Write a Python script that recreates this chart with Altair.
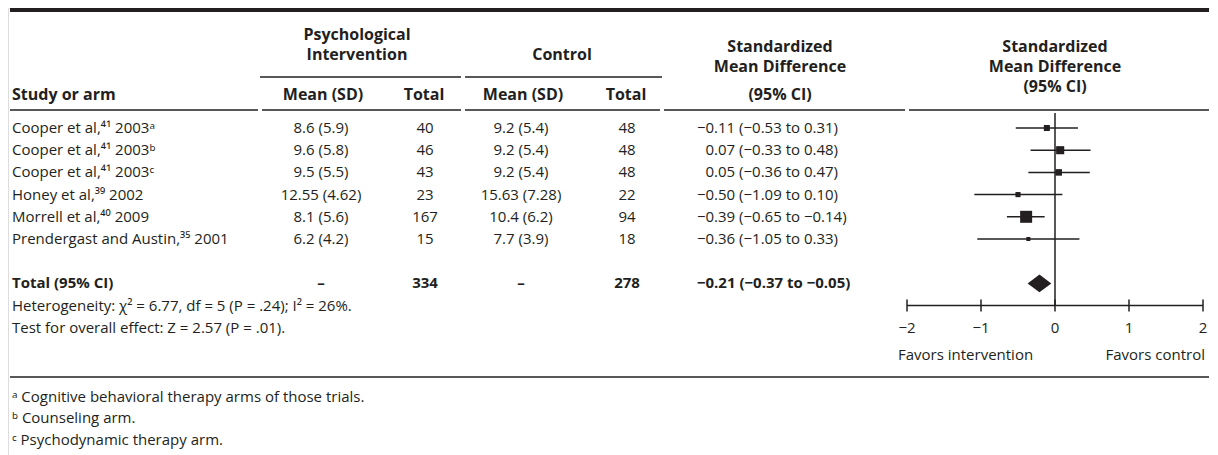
import altair as alt
import pandas as pd

# ---------------- data ----------------
studies = ["Cooper et al,⁴¹ 2003ᵃ", "Cooper et al,⁴¹ 2003ᵇ", "Cooper et al,⁴¹ 2003ᶜ",
           "Honey et al,³⁹ 2002", "Morrell et al,⁴⁰ 2009", "Prendergast and Austin,³⁵ 2001"]
int_mean_sd = ["8.6 (5.9)", "9.6 (5.8)", "9.5 (5.5)", "12.55 (4.62)", "8.1 (5.6)", "6.2 (4.2)"]
int_total = [40, 46, 43, 23, 167, 15]
ctl_mean_sd = ["9.2 (5.4)", "9.2 (5.4)", "9.2 (5.4)", "15.63 (7.28)", "10.4 (6.2)", "7.7 (3.9)"]
ctl_total = [48, 48, 48, 22, 94, 18]
smd = [-0.11, 0.07, 0.05, -0.50, -0.39, -0.36]
ci_low = [-0.53, -0.33, -0.36, -1.09, -0.65, -1.05]
ci_high = [0.31, 0.48, 0.47, 0.10, -0.14, 0.33]
weight = [11, 20, 13, 8, 44, 5]          # estimated from square areas
total_smd, total_low, total_high = -0.21, -0.37, -0.05
total_int, total_ctl = 334, 278
heterogeneity = "Heterogeneity: χ² = 6.77, df = 5 (P = .24); I² = 26%."
overall = "Test for overall effect: Z = 2.57 (P = .01)."
footnotes = ["ᵃ Cognitive behavioral therapy arms of those trials.",
             "ᵇ Counseling arm.",
             "ᶜ Psychodynamic therapy arm."]
axis_ticks = [-2, -1, 0, 1, 2]
favors = ["Favors intervention", "Favors control"]

# ---------------- style / layout ----------------
FONT = "Open Sans, Noto Sans, DejaVu Sans, sans-serif"
INK = "#231f20"
HEAD = 16
BODY = 15
W, H = 1202, 447

Y_SCALE = alt.Scale(domain=[-5.4054, 14.7297], reverse=True, nice=False, zero=False)
X_SCALE = alt.Scale(domain=[-2, 2], range=[899, 1195], nice=False, zero=False)


def Y(field="r"):
    return alt.Y(f"{field}:Q", scale=Y_SCALE, axis=None)


def X(field):
    return alt.X(f"{field}:Q", scale=X_SCALE, axis=None)


def fmt(v):
    return ("\u2212" if v < 0 else "") + f"{abs(v):.2f}"


def text_layer(texts, rows, x, align="left", size=BODY, bold=False):
    df = pd.DataFrame({"t": texts, "r": rows})
    return alt.Chart(df).mark_text(
        align=align, baseline="middle", font=FONT, fontSize=size,
        fontWeight="bold" if bold else "normal", color=INK
    ).encode(x=alt.value(x), y=Y(), text="t:N")


def hline(x1, x2, r, width=1.5):
    df = pd.DataFrame({"r": [r]})
    return alt.Chart(df).mark_rule(color=INK, strokeWidth=width).encode(
        x=alt.value(x1), x2=alt.value(x2), y=Y())


rows = list(range(len(studies)))
TOTAL_ROW = 7
SMD_X = 697.5   # sign column boundary of the SMD text

layers = []

# table rules
layers.append(hline(2, 1201, -5.315, 4))
layers.append(hline(252, 453, -2.297))
layers.append(hline(457, 654, -2.297))
for a, b in [(2, 250), (254, 453), (457, 652), (656, 897), (901, 1201)]:
    layers.append(hline(a, b, -0.811))
layers.append(hline(2, 1201, 11.216))

# headers
layers.append(text_layer(["Psychological", "Intervention"], [-4.21, -3.288], 349, "center", HEAD, True))
layers.append(text_layer(["Control"], [-3.288], 554, "center", HEAD, True))
layers.append(text_layer(["Study or arm"], [-1.486], 4, "left", HEAD, True))
layers.append(text_layer(["Mean (SD)"], [-1.486], 315, "center", HEAD, True))
layers.append(text_layer(["Total"], [-1.486], 416, "center", HEAD, True))
layers.append(text_layer(["Mean (SD)"], [-1.486], 515, "center", HEAD, True))
layers.append(text_layer(["Total"], [-1.486], 618, "center", HEAD, True))
layers.append(text_layer(["Standardized", "Mean Difference", "(95% CI)"],
                         [-3.67, -2.748, -1.486], 772, "center", HEAD, True))
layers.append(text_layer(["Standardized", "Mean Difference", "(95% CI)"],
                         [-3.67, -2.748, -1.826], 1047, "center", HEAD, True))

# study rows
sign_txt = ["\u2212" if e < 0 else "" for e in smd]
rest_txt = [f"{abs(e):.2f} ({fmt(lo)} to {fmt(hi)})" for e, lo, hi in zip(smd, ci_low, ci_high)]
layers.append(text_layer(studies, rows, 4))
layers.append(text_layer(int_mean_sd, rows, 313, "center"))
layers.append(text_layer([str(v) for v in int_total], rows, 417, "center"))
layers.append(text_layer(ctl_mean_sd, rows, 513, "center"))
layers.append(text_layer([str(v) for v in ctl_total], rows, 619, "center"))
layers.append(text_layer(sign_txt, rows, SMD_X, "right"))
layers.append(text_layer(rest_txt, rows, SMD_X, "left"))

# total row
layers.append(text_layer(["Total (95% CI)"], [TOTAL_ROW], 4, "left", BODY, True))
layers.append(text_layer(["\u2013"], [TOTAL_ROW], 313, "center", BODY, True))
layers.append(text_layer([str(total_int)], [TOTAL_ROW], 417, "center", BODY, True))
layers.append(text_layer(["\u2013"], [TOTAL_ROW], 513, "center", BODY, True))
layers.append(text_layer([str(total_ctl)], [TOTAL_ROW], 619, "center", BODY, True))
layers.append(text_layer(["\u2212" if total_smd < 0 else ""], [TOTAL_ROW], SMD_X, "right", BODY, True))
layers.append(text_layer([f"{abs(total_smd):.2f} ({fmt(total_low)} to {fmt(total_high)})"],
                         [TOTAL_ROW], SMD_X, "left", BODY, True))
layers.append(text_layer([heterogeneity, overall], [8, 9], 4))
layers.append(text_layer(footnotes, [12.117, 13.063, 14.054], 4))

# forest plot
forest = pd.DataFrame({"r": rows, "est": smd, "lo": ci_low, "hi": ci_high, "w": weight})
layers.append(alt.Chart(forest).mark_rule(color=INK, strokeWidth=1.5).encode(
    x=X("lo"), x2="hi", y=Y()))
layers.append(alt.Chart(forest).mark_square(color=INK, opacity=1, filled=True).encode(
    x=X("est"), y=Y(),
    size=alt.Size("w:Q", scale=alt.Scale(domain=[0, 44], range=[0, 144], zero=True), legend=None)))

# zero line
layers.append(alt.Chart(pd.DataFrame({"x": [0], "r": [-0.676], "r2": [8]})).mark_rule(
    color=INK, strokeWidth=1.5).encode(x=X("x"), y=Y(), y2="r2"))

# diamond
half = 0.40
dia = pd.DataFrame({"x": [total_low, total_smd, total_high],
                    "r": [TOTAL_ROW, TOTAL_ROW - half, TOTAL_ROW],
                    "r2": [TOTAL_ROW, TOTAL_ROW + half, TOTAL_ROW]})
layers.append(alt.Chart(dia).mark_area(color=INK, opacity=1).encode(
    x=X("x"), y=Y(), y2="r2"))

# axis
AX_ROW = 8
layers.append(alt.Chart(pd.DataFrame({"x": [axis_ticks[0]], "x2": [axis_ticks[-1]], "r": [AX_ROW]})).mark_rule(
    color=INK, strokeWidth=1.5).encode(x=X("x"), x2="x2", y=Y()))
ticks = pd.DataFrame({"x": axis_ticks, "r": [AX_ROW - 0.27] * 5, "r2": [AX_ROW + 0.27] * 5,
                      "lab": [("\u2212" if v < 0 else "") + str(abs(v)) for v in axis_ticks],
                      "rl": [9] * 5})
layers.append(alt.Chart(ticks).mark_rule(color=INK, strokeWidth=1.5).encode(
    x=X("x"), y=Y(), y2="r2"))
layers.append(alt.Chart(ticks).mark_text(font=FONT, fontSize=BODY, color=INK, baseline="middle").encode(
    x=X("x"), y=Y("rl"), text="lab:N"))
fav = pd.DataFrame({"x": [axis_ticks[0], axis_ticks[-1]], "r": [10.225, 10.225], "t": favors})
layers.append(alt.Chart(fav.iloc[[0]]).mark_text(font=FONT, fontSize=BODY, color=INK, baseline="middle",
                                                 align="left", dx=-9).encode(x=X("x"), y=Y(), text="t:N"))
layers.append(alt.Chart(fav.iloc[[1]]).mark_text(font=FONT, fontSize=BODY, color=INK, baseline="middle",
                                                 align="right", dx=2).encode(x=X("x"), y=Y(), text="t:N"))

chart = alt.layer(*layers).properties(
    width=W, height=H, autosize=alt.AutoSizeParams(type="none"), padding=0
).configure_view(stroke=None).configure(background="white")

chart.save("out.html", embed_options={"renderer": "svg", "actions": False})
